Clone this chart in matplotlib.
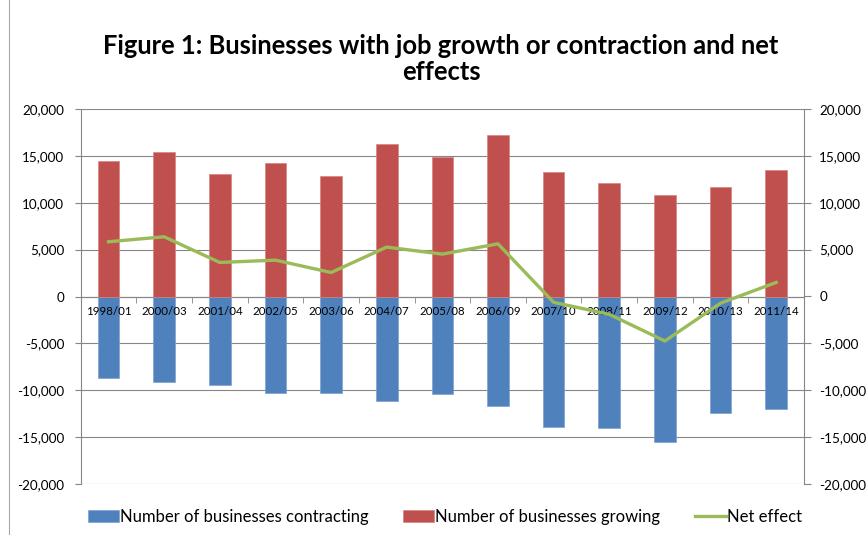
import matplotlib
matplotlib.use("Agg")
import matplotlib.pyplot as plt
from matplotlib.lines import Line2D
import numpy as np

plt.rcParams['font.family'] = ['Lato', 'DejaVu Sans']

periods = ["1998/01", "2000/03", "2001/04", "2002/05", "2003/06", "2004/07",
           "2005/08", "2006/09", "2007/10", "2008/11", "2009/12", "2010/13", "2011/14"]
growing = [14420, 15410, 13100, 14200, 12850, 16270, 14880,
           17270, 13240, 12140, 10790, 11640, 13460]
contracting = [-8720, -9080, -9430, -10290, -10290, -11140, -10430,
               -11640, -13920, -14060, -15520, -12460, -11960]
net_effect = [5840, 6370, 3630, 3880, 2560, 5270, 4520,
              5620, -620, -1900, -4750, -710, 1500]
y_ticks = [-20000, -15000, -10000, -5000, 0, 5000, 10000, 15000, 20000]

BLUE = "#4F81BD"
RED = "#C0504D"
GREEN = "#9BBB59"
AXIS_GRAY = "#868686"

W, H = 866, 535
fig = plt.figure(figsize=(W / 100, H / 100), dpi=100)
ax = fig.add_axes([80.7 / W, 1 - 484 / H, 723.3 / W, 375 / H])

x = np.arange(len(periods))
bw = 0.39

# horizontal gridlines sit underneath everything
for v in y_ticks:
    ax.axhline(v, color=AXIS_GRAY, linewidth=0.8, zorder=0.5)

h_con = ax.bar(x, contracting, width=bw, color=BLUE, edgecolor="#7FA2D0",
               linewidth=0.5, zorder=2)
h_gro = ax.bar(x, growing, width=bw, color=RED, edgecolor="#D88482",
               linewidth=0.5, zorder=2)
h_net, = ax.plot(x, net_effect, color=GREEN, linewidth=2.4,
                 solid_joinstyle="round", zorder=3)

ax.set_xlim(-0.5, len(periods) - 0.5)
ax.set_ylim(-20000, 20000)
ax.set_yticks(y_ticks)
ax.set_yticklabels([f"{v:,}" for v in y_ticks])

# category axis crosses at zero, labels drawn above the bars
ax.spines['bottom'].set_position(('data', 0))
ax.spines['bottom'].set_color(AXIS_GRAY)
ax.spines['bottom'].set_zorder(1.5)
ax.spines['top'].set_visible(False)
ax.spines['right'].set_visible(False)
ax.spines['left'].set_color(AXIS_GRAY)
ax.xaxis.set_zorder(2.5)
ax.set_xticks(x)
ax.set_xticklabels(periods, fontsize=8.3)
ax.set_xticks(np.arange(len(periods) - 1) + 0.5, minor=True)
ax.tick_params(axis='x', which='major', length=0, pad=7)
ax.tick_params(axis='x', which='minor', length=4, color=AXIS_GRAY, direction='out')
ax.tick_params(axis='y', length=4, color=AXIS_GRAY, labelsize=9.7, pad=8)

ax2 = ax.twinx()
ax2.set_ylim(ax.get_ylim())
ax2.set_yticks(y_ticks)
ax2.set_yticklabels([f"{v:,}" for v in y_ticks])
ax2.tick_params(axis='y', length=5, color=AXIS_GRAY, labelsize=9.7, pad=6)
for s in ['top', 'bottom', 'left']:
    ax2.spines[s].set_visible(False)
ax2.spines['right'].set_color(AXIS_GRAY)

fig.text(441 / W, 1 - 59 / H,
         "Figure 1: Businesses with job growth or contraction and net\neffects",
         ha='center', va='center', fontsize=18.4, fontweight='bold',
         linespacing=1.15, multialignment='center')

fig.legend([h_con, h_gro, h_net],
           ["Number of businesses contracting", "Number of businesses growing",
            "Net effect"],
           loc='center left', bbox_to_anchor=(79.5 / W, 1 - 517 / H),
           ncol=3, frameon=False, fontsize=12, borderpad=0, handlelength=1.86,
           handleheight=0.72, handletextpad=0.06, columnspacing=2.1)

fig.add_artist(Line2D([9 / W, 9 / W], [0, 1], color="#A6A6A6", linewidth=0.8))

fig.savefig("out.png", dpi=100)
